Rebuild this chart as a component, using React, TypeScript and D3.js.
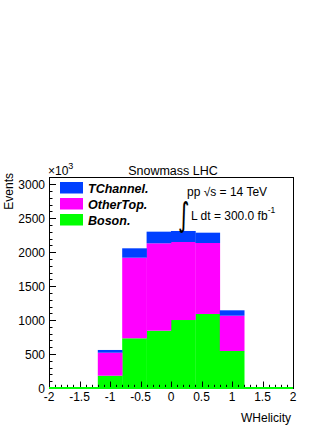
import React, { useEffect, useRef } from 'react';
import * as d3 from 'd3';

// histogram bins, WHelicity from -2 to 2 (values in units of 10^3 events)
const binEdges = [-2, -1.6, -1.2, -0.8, -0.4, 0, 0.4, 0.8, 1.2, 1.6, 2];
const boson = [0, 0, 181, 732, 844, 1001, 1090, 545, 0, 0];
const otherTop = [0, 0, 339, 1187, 1287, 1149, 1045, 520, 0, 0];
const tChannel = [0, 0, 40, 138, 171, 162, 152, 79, 0, 0];

const seriesKeys = ['boson', 'otherTop', 'tChannel'];
const legendNames = ['TChannel.', 'OtherTop.', 'Boson.'];
const legendColors = ['#0040ff', '#ff00ff', '#00ff00'];
const colors: Record<string, string> = { boson: '#00ff00', otherTop: '#ff00ff', tChannel: '#0040ff' };

const xTicks = [-2, -1.5, -1, -0.5, 0, 0.5, 1, 1.5, 2];
const yTicks = [0, 500, 1000, 1500, 2000, 2500, 3000];

const W = 332;
const H = 430;
const FONT = 'Liberation Sans, Arial, Helvetica, sans-serif';

function App() {
  const ref = useRef<SVGSVGElement>(null);

  useEffect(() => {
    const svg = d3.select(ref.current);
    svg.selectAll('*').remove();

    const left = 49, right = 293, top = 177, bottom = 388;
    const x = d3.scaleLinear().domain([-2, 2]).range([left, right]);
    const y = d3.scaleLinear().domain([0, 3107]).range([bottom, top]);

    const table = boson.map((_, i) => ({
      x0: binEdges[i],
      x1: binEdges[i + 1],
      boson: boson[i],
      otherTop: otherTop[i],
      tChannel: tChannel[i],
    }));
    const stacked = d3.stack<any>().keys(seriesKeys)(table);

    svg.append('rect').attr('width', W).attr('height', H).attr('fill', '#fff');

    // bars
    stacked.forEach((layer) => {
      svg.append('g')
        .selectAll('rect')
        .data(layer)
        .join('rect')
        .attr('x', (d: any) => x(d.data.x0))
        .attr('width', (d: any) => x(d.data.x1) - x(d.data.x0) + 0.3)
        .attr('y', (d) => y(d[1]))
        .attr('height', (d) => y(d[0]) - y(d[1]))
        .attr('fill', colors[layer.key]);
    });

    // frame
    svg.append('rect')
      .attr('x', left).attr('y', top)
      .attr('width', right - left).attr('height', bottom - top)
      .attr('fill', 'none').attr('stroke', '#000').attr('stroke-width', 1)
      .attr('shape-rendering', 'crispEdges');

    // y ticks
    const yMinor = d3.range(0, 3101, 100);
    svg.append('g')
      .selectAll('line')
      .data(yMinor)
      .join('line')
      .attr('x1', left)
      .attr('x2', (d) => left + (d % 500 === 0 ? 7 : 3.5))
      .attr('y1', (d) => Math.round(y(d)) + 0.5)
      .attr('y2', (d) => Math.round(y(d)) + 0.5)
      .attr('stroke', '#000');

    svg.append('g')
      .selectAll('text')
      .data(yTicks)
      .join('text')
      .attr('x', 45)
      .attr('y', (d) => y(d) + 4.5)
      .attr('text-anchor', 'end')
      .attr('font-family', FONT)
      .attr('font-size', 12)
      .text((d) => d);

    // x ticks
    const xMinor = d3.range(-20, 21).map((v) => v / 10);
    svg.append('g')
      .selectAll('line')
      .data(xMinor)
      .join('line')
      .attr('x1', (d) => Math.round(x(d)) + 0.5)
      .attr('x2', (d) => Math.round(x(d)) + 0.5)
      .attr('y1', bottom)
      .attr('y2', (d) => bottom - (Math.abs(d * 2 - Math.round(d * 2)) < 1e-6 ? 6.5 : 3.2))
      .attr('stroke', '#000');

    svg.append('g')
      .selectAll('text')
      .data(xTicks)
      .join('text')
      .attr('x', (d) => x(d))
      .attr('y', 401)
      .attr('text-anchor', 'middle')
      .attr('font-family', FONT)
      .attr('font-size', 12)
      .text((d) => d);

    // zero-height bins drawn as a line at the bottom
    svg.append('line')
      .attr('x1', x(-2)).attr('x2', x(2))
      .attr('y1', bottom).attr('y2', bottom)
      .attr('stroke', colors.boson).attr('stroke-width', 2);

    // axis titles
    svg.append('text')
      .attr('x', 291).attr('y', 422)
      .attr('text-anchor', 'end')
      .attr('font-family', FONT).attr('font-size', 12)
      .text('WHelicity');

    svg.append('text')
      .attr('transform', 'translate(12.5,173) rotate(-90)')
      .attr('text-anchor', 'end')
      .attr('font-family', FONT).attr('font-size', 12)
      .text('Events');

    const exp = svg.append('text')
      .attr('x', 48).attr('y', 175)
      .attr('font-family', FONT).attr('font-size', 12);
    exp.append('tspan').text('×10');
    exp.append('tspan').attr('dy', -6).attr('font-size', 9).text('3');

    // title
    svg.append('text')
      .attr('x', 173).attr('y', 175)
      .attr('text-anchor', 'middle')
      .attr('font-family', FONT).attr('font-size', 12.5)
      .text('Snowmass LHC');

    // legend
    const leg = svg.append('g');
    legendNames.forEach((name, i) => {
      const y0 = 182 + i * 16;
      leg.append('rect')
        .attr('x', 60).attr('y', y0)
        .attr('width', 23).attr('height', 11.5)
        .attr('fill', legendColors[i]);
      leg.append('text')
        .attr('x', 88).attr('y', y0 + 10.5)
        .attr('font-family', FONT).attr('font-size', 12.5)
        .attr('font-weight', 'bold').attr('font-style', 'italic')
        .text(name);
    });

    // annotation
    svg.append('text')
      .attr('x', 187).attr('y', 196)
      .attr('font-family', FONT).attr('font-size', 12)
      .text('pp √s = 14 TeV');

    // tall integral sign, stretched vertically
    svg.append('text')
      .attr('transform', 'translate(178,226) scale(1,1.5)')
      .attr('font-family', 'DejaVu Sans, sans-serif').attr('font-size', 22)
      .text('∫');

    const lum = svg.append('text')
      .attr('x', 191).attr('y', 219.5)
      .attr('font-family', FONT).attr('font-size', 12);
    lum.append('tspan').text('L dt = 300.0 fb');
    lum.append('tspan').attr('dy', -7).attr('font-size', 8.5).text('-1');
  }, []);

  return (
    <svg
      ref={ref}
      width={W}
      height={H}
      style={{ position: 'absolute', left: 0, top: 0 }}
    />
  );
}

export default App;
